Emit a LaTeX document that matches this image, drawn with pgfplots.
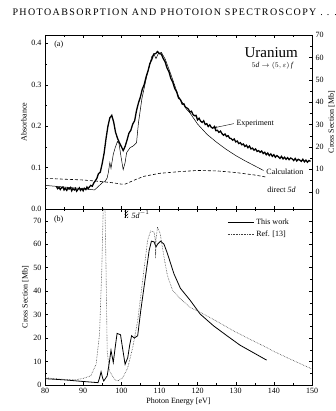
\documentclass[border=0pt]{standalone}
\usepackage{fontspec}
\setmainfont{Liberation Serif}
\newfontfamily\titlefont[LetterSpace=14]{Liberation Serif}
\usepackage{pgfplots}
\pgfplotsset{compat=1.18}
\usetikzlibrary{patterns,arrows.meta}
\begin{document}
\begin{tikzpicture}
\useasboundingbox (0,0) rectangle (336pt,411pt);
\pgfplotsset{
  every axis/.append style={
    scale only axis, width=267pt, xmin=80, xmax=150,
    tick align=inside, major tick length=3pt, minor tick length=1.6pt,
    every tick/.style={black, line width=0.4pt},
    tick label style={font=\fontsize{8}{9}\selectfont},
    label style={font=\fontsize{8}{9.5}\selectfont},
    /pgf/number format/assume math mode=true,
    axis line style={line width=0.6pt},
  }
}
\node[font=\titlefont\fontsize{10}{12}\selectfont, anchor=west] at (9pt,399pt) {PHOTOABSORPTION AND PHOTOION SPECTROSCOPY . . .};
% ---------- top panel (a) ----------
\begin{axis}[at={(45pt,202pt)}, anchor=south west, height=174pt,
  ymin=0, ymax=0.42, xtick={80,90,...,150}, minor x tick num=1, xticklabels={},
  xtick pos=both, ytick={0,0.1,0.2,0.3,0.4}, minor y tick num=1, ytick pos=left,
  yticklabel style={/pgf/number format/.cd, fixed, fixed zerofill, precision=1},
  ylabel={Absorbance}, ylabel style={yshift=-2pt}]
% direct 5d
\addplot[black, line width=0.6pt, dash pattern=on 3pt off 2pt] coordinates {
(80,0.074)(85,0.072)(90,0.070)(95,0.066)(98,0.063)(100,0.060)(101,0.060)(102,0.064)(104,0.072)(106,0.079)(110,0.086)(115,0.090)(120,0.093)(125,0.092)(130,0.088)(135,0.082)(138,0.077)};
% calculation
\addplot[black, line width=0.5pt] coordinates {
(80,0.057)(85,0.053)(90,0.049)(93,0.046)(94.4,0.058)(95.2,0.065)(95.7,0.066)(96.3,0.075)(96.6,0.088)(97.0,0.112)(97.3,0.098)(97.9,0.132)(98.4,0.148)(99.0,0.163)(99.4,0.158)(100.0,0.122)(100.5,0.095)(101.0,0.112)(101.4,0.136)(102.3,0.148)(103.1,0.152)(104.0,0.160)(104.5,0.208)(105.4,0.266)(106.7,0.322)(108,0.368)(108.6,0.373)(109.1,0.363)(109.7,0.375)(110.5,0.378)(111.5,0.362)(113,0.325)(115,0.272)(117,0.242)(118,0.232)(120,0.205)(122.5,0.180)(125,0.161)(127.5,0.144)(130,0.129)(132.5,0.116)(135,0.104)(137.3,0.093)};
% experiment
\addplot[black, line width=1.3pt] coordinates {
(83.0,0.055)(83.3,0.049)(83.7,0.052)(84.0,0.047)(84.3,0.051)(84.7,0.053)(85.0,0.046)(85.3,0.050)(85.7,0.045)(86.0,0.051)(86.3,0.048)(86.7,0.052)(87.0,0.044)(87.3,0.049)(87.7,0.046)(88.0,0.050)(88.3,0.043)(88.7,0.048)(89.0,0.051)(89.3,0.045)(89.7,0.049)(90.0,0.044)(90.3,0.050)(90.7,0.047)(91.0,0.053)(91.3,0.049)(91.7,0.054)(92.0,0.057)(92.4,0.055)(92.8,0.063)(93.2,0.068)(93.6,0.074)(94.0,0.085)(94.5,0.089)(95.0,0.110)(95.5,0.135)(96.0,0.170)(96.5,0.200)(97.0,0.220)(97.5,0.226)(98.0,0.210)(98.5,0.185)(99.0,0.171)(99.5,0.160)(100.0,0.151)(100.5,0.141)(101.0,0.151)(101.5,0.166)(102.0,0.183)(102.5,0.190)(103.0,0.205)(103.5,0.213)(104.0,0.238)(104.5,0.256)(105.0,0.270)(105.5,0.289)(106.0,0.300)(106.5,0.319)(107.0,0.333)(107.5,0.351)(108.0,0.361)(108.5,0.374)(109.0,0.375)(109.5,0.380)(110.0,0.375)(110.5,0.374)(111.0,0.363)(111.5,0.355)(112.0,0.340)(112.5,0.331)(113.0,0.315)(113.5,0.306)(114.0,0.291)(114.5,0.283)(115.0,0.268)(115.5,0.264)(116.0,0.253)(116.4,0.254)(116.8,0.246)(117.2,0.244)(117.6,0.241)(118.0,0.234)(118.4,0.236)(118.8,0.228)(119.2,0.225)(119.6,0.226)(120.0,0.215)(120.4,0.219)(120.8,0.212)(121.2,0.209)(121.6,0.213)(122.0,0.204)(122.4,0.206)(122.8,0.199)(123.2,0.203)(123.6,0.197)(124.0,0.195)(124.4,0.199)(124.8,0.189)(125.2,0.190)(125.6,0.185)(126.0,0.188)(126.4,0.182)(126.8,0.178)(127.2,0.181)(127.6,0.175)(128.0,0.177)(128.4,0.171)(128.8,0.170)(129.2,0.166)(129.6,0.169)(130.0,0.162)(130.4,0.164)(130.8,0.158)(131.2,0.160)(131.6,0.155)(132.0,0.157)(132.4,0.151)(132.8,0.154)(133.2,0.148)(133.6,0.152)(134.0,0.145)(134.4,0.147)(134.8,0.142)(135.2,0.145)(135.6,0.139)(136.0,0.141)(136.4,0.137)(136.8,0.140)(137.2,0.134)(137.6,0.137)(138.0,0.131)(138.4,0.135)(138.8,0.129)(139.2,0.133)(139.6,0.127)(140.0,0.131)(140.4,0.125)(140.8,0.129)(141.2,0.126)(141.6,0.122)(142.0,0.127)(142.4,0.121)(142.8,0.125)(143.2,0.120)(143.6,0.124)(144.0,0.119)(144.4,0.123)(144.8,0.121)(145.2,0.117)(145.6,0.122)(146.0,0.116)(146.4,0.120)(146.8,0.118)(147.2,0.115)(147.6,0.120)(148.0,0.114)(148.4,0.118)(148.8,0.113)(149.2,0.117)(149.6,0.115)};
\node[font=\fontsize{8}{9}\selectfont] at (axis cs:83.6,0.397) {(a)};
\node[font=\fontsize{15}{17}\selectfont] at (axis cs:139.3,0.378) {Uranium};
\node[font=\fontsize{7.5}{9}\selectfont] at (axis cs:139.6,0.346) {$5\mathit{d}\rightarrow(5,\varepsilon)\,\mathit{f}$};
\node[font=\fontsize{8}{9}\selectfont, anchor=west] at (axis cs:129.3,0.206) {Experiment};
\draw[-{Stealth[length=3pt]}, line width=0.4pt] (axis cs:129.5,0.206) -- (axis cs:124.3,0.196);
\node[font=\fontsize{8}{9}\selectfont] at (axis cs:142.9,0.089) {Calculation};
\node[font=\fontsize{8}{9}\selectfont] at (axis cs:142.0,0.046) {direct $\mathit{5d}$};
\end{axis}
\begin{axis}[at={(45pt,202pt)}, anchor=south west, height=174pt,
  ymin=-7.7, ymax=70, axis x line=none, axis y line*=right,
  ytick={0,10,...,70}, minor y tick num=1,
  ylabel={Cross Section [Mb]}, ylabel style={yshift=2pt}]
\addplot[draw=none] coordinates {(80,0)};
\end{axis}
% ---------- bottom panel (b) ----------
\begin{axis}[at={(45pt,26pt)}, anchor=south west, height=176pt,
  ymin=0, ymax=75, xtick={80,90,...,150}, minor x tick num=1, xtick pos=both,
  ytick={0,10,...,70}, minor y tick num=1, ytick pos=both,
  xlabel={Photon Energy [eV]}, ylabel={Cross Section [Mb]},
  xlabel style={yshift=3pt}, ylabel style={yshift=-2pt},
  legend style={draw=none, fill=none, at={(axis cs:127,72.5)}, anchor=north west,
    font=\fontsize{8}{9.5}\selectfont, row sep=1pt},
  legend cell align=left,
  legend image code/.code={\draw[#1] (0pt,0pt) -- (26pt,0pt);},
  restrict y to domain=-5:80, clip=true]
\addplot[black, line width=0.8pt] coordinates {
(80,2.7)(85,2.2)(90,1.5)(93.9,1.0)(94.3,3)(94.7,5.6)(95.1,3)(95.4,1.7)(96.3,3.9)(96.9,10)(97.3,14.8)(97.9,9.6)(98.4,16)(98.9,22)(99.8,21.4)(100.4,15)(101,8.8)(101.7,11.7)(102.2,17)(102.7,21)(103.4,20)(104.3,21)(105.1,31.7)(106.2,44.5)(107.3,57.3)(107.9,61.3)(108.6,61)(109.1,58.8)(109.5,60)(110.3,61.3)(111.2,60)(112.1,56)(113.8,47.4)(115.5,41.2)(118.1,36)(120.7,30.2)(124.2,25.2)(127.7,21)(131.1,17)(134.6,13.8)(138.1,10.6)};
\addlegendentry{This work}
\addplot[black!75, line width=0.6pt, densely dotted] coordinates {
(80,3.1)(84,2.5)(88,2.2)(90,2.8)(92,3.9)(93.4,8.8)(94.3,21.7)(94.9,50)(95.3,78)(95.7,78)(96.0,50)(96.3,14.5)(96.9,6)(98.2,2.4)(99.1,1.7)(100.4,3.1)(101.7,7.4)(103,16)(104.3,27.4)(105.6,44.5)(106.9,61.6)(107.7,65.6)(108.6,65.2)(108.9,62)(109.0,54)(109.1,62)(109.5,67.3)(110.2,64.5)(111.2,54.5)(112.1,46.6)(113.4,40.5)(115.5,36.7)(118.1,33)(120.7,31)(125.1,27.1)(129.4,23.1)(133.7,19.5)(138.1,16)(140,14.3)(145,10.5)(150,6.8)};
\addlegendentry{Ref. [13]}
\node[font=\fontsize{8}{9}\selectfont] at (axis cs:83.6,70.3) {(b)};
\fill[pattern=north east lines] (axis cs:100.9,71.2) rectangle (axis cs:101.8,74.4);
\draw[line width=0.4pt] (axis cs:100.9,71.2) -- (axis cs:100.9,74.4);
\node[font=\fontsize{8}{9}\selectfont, anchor=west] at (axis cs:101.8,72.6) {$\mathit{5d}^{-1}$};
\end{axis}
\end{tikzpicture}
\end{document}
